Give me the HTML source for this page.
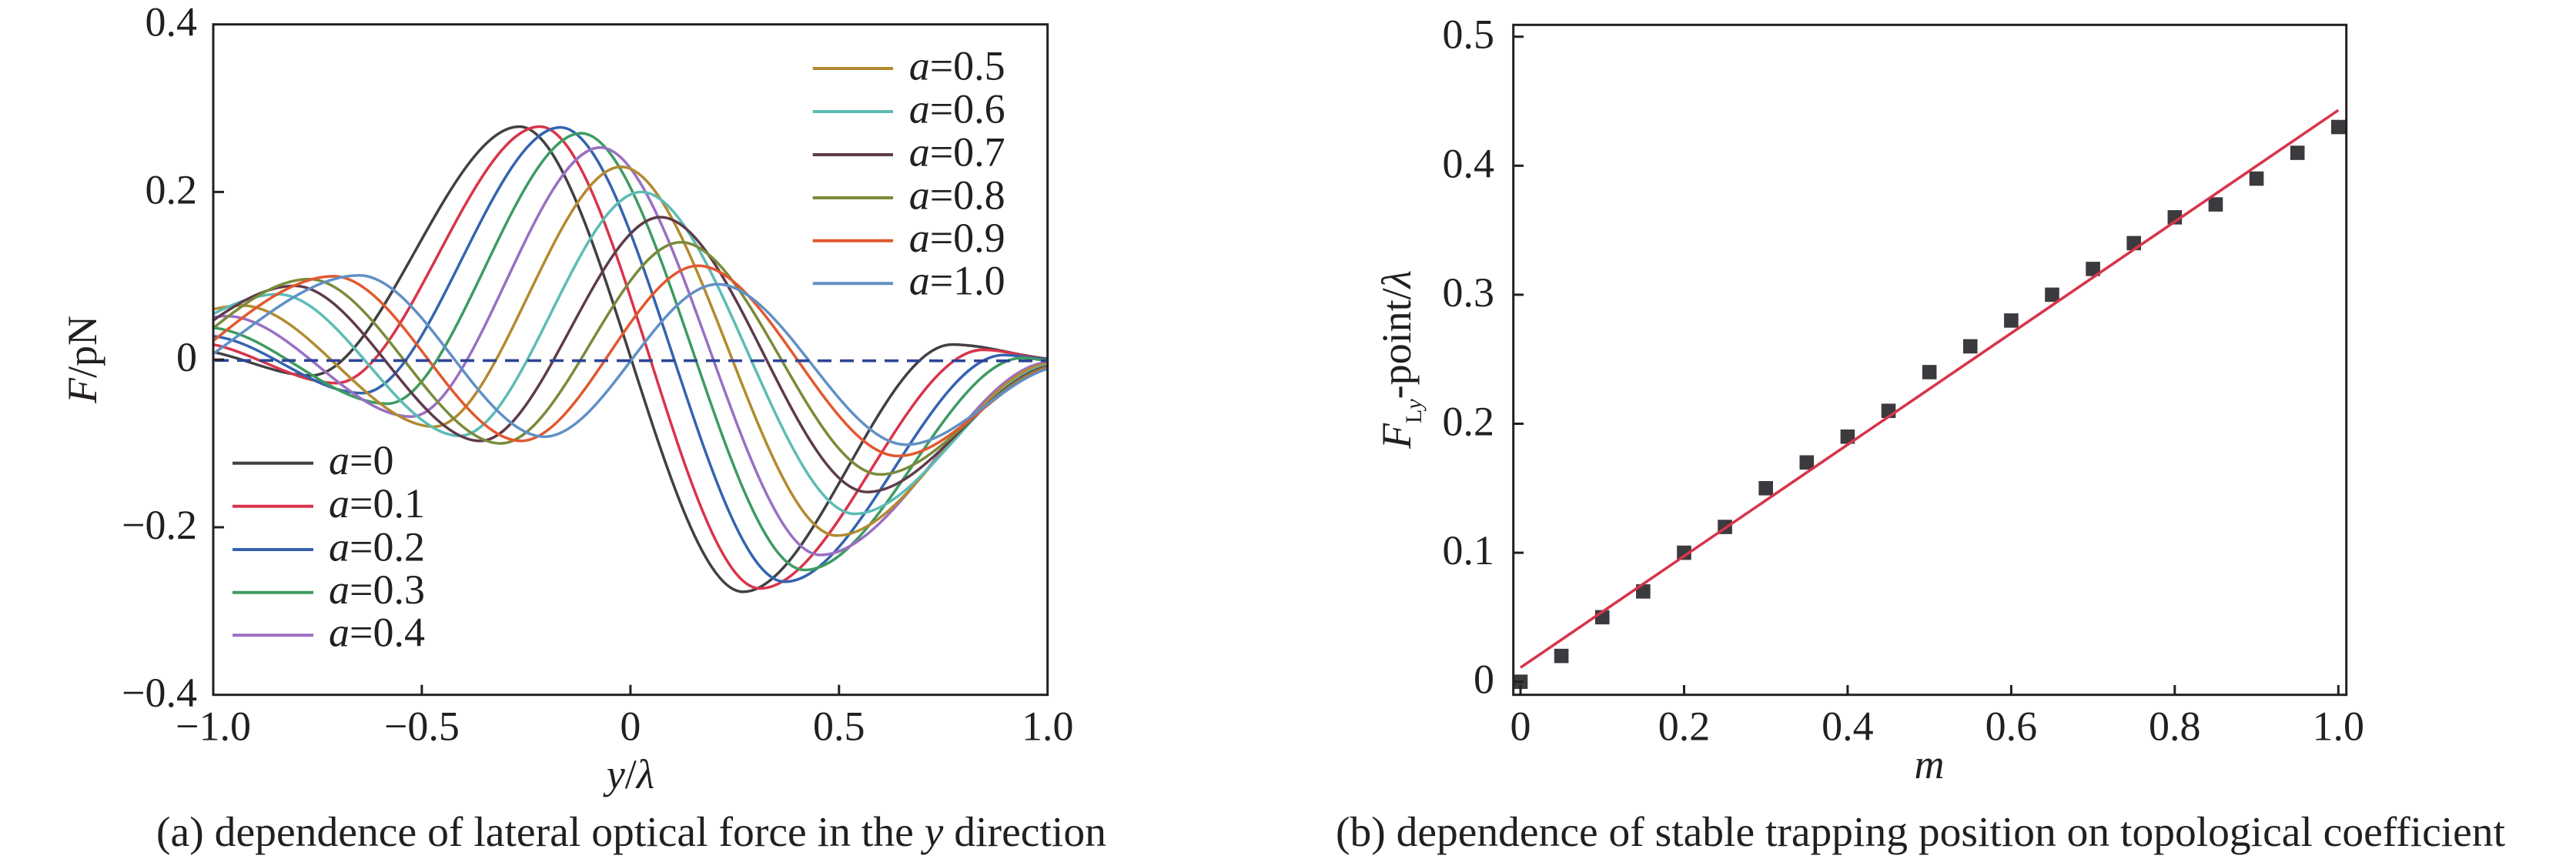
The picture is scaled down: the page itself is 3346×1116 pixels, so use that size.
<!DOCTYPE html>
<html>
<head>
<meta charset="utf-8">
<style>
html,body{margin:0;padding:0;background:#fff;}
svg{display:block;}
</style>
</head>
<body>
<svg id="fig" xmlns="http://www.w3.org/2000/svg" width="3346" height="1116" viewBox="0 0 3346 1116" font-family="'Liberation Serif','Times New Roman',serif" fill="#231f20">
  <rect x="0" y="0" width="3346" height="1116" fill="#ffffff"/>
  <defs>
    <clipPath id="clipL"><rect x="277" y="31.7" width="1083.7" height="871"/></clipPath>
  </defs>

  <!-- ============ LEFT PLOT ============ -->
  <g id="curves" clip-path="url(#clipL)" fill="none" stroke-width="3.5" stroke-linejoin="round" stroke-linecap="round"></g>
  <line x1="279" y1="468.3" x2="1359" y2="468.8" stroke="#2e4496" stroke-width="3.6" stroke-dasharray="18 11"/>

  <!-- frame -->
  <rect x="277" y="31.7" width="1083.7" height="871" fill="none" stroke="#231f20" stroke-width="3"/>
  <!-- ticks -->
  <g stroke="#231f20" stroke-width="3">
    <line x1="277" y1="249.4" x2="291" y2="249.4"/>
    <line x1="277" y1="467.2" x2="291" y2="467.2"/>
    <line x1="277" y1="685.0" x2="291" y2="685.0"/>
    <line x1="547.9" y1="902.7" x2="547.9" y2="889.7"/>
    <line x1="818.9" y1="902.7" x2="818.9" y2="889.7"/>
    <line x1="1089.8" y1="902.7" x2="1089.8" y2="889.7"/>
  </g>
  <!-- y tick labels -->
  <g font-size="54" text-anchor="end">
    <text x="256" y="46.7">0.4</text>
    <text x="256" y="264.4">0.2</text>
    <text x="256" y="482.2">0</text>
    <text x="256" y="700">−0.2</text>
    <text x="256" y="917.8">−0.4</text>
  </g>
  <!-- x tick labels -->
  <g font-size="54" text-anchor="middle">
    <text x="277" y="961.5">−1.0</text>
    <text x="547.9" y="961.5">−0.5</text>
    <text x="818.9" y="961.5">0</text>
    <text x="1089.8" y="961.5">0.5</text>
    <text x="1360.7" y="961.5">1.0</text>
  </g>
  <!-- axis labels -->
  <text font-size="54" text-anchor="middle" transform="translate(125,467) rotate(-90)"><tspan font-style="italic">F</tspan>/pN</text>
  <text font-size="54" text-anchor="middle" x="819" y="1024"><tspan font-style="italic">y</tspan>/<tspan font-style="italic">λ</tspan></text>

  <!-- legend lower-left -->
  <g stroke-width="4" stroke-linecap="butt">
    <line x1="302" y1="601.8" x2="407" y2="601.8" stroke="#404045"/>
    <line x1="302" y1="657.7" x2="407" y2="657.7" stroke="#d8344a"/>
    <line x1="302" y1="714" x2="407" y2="714" stroke="#3563b0"/>
    <line x1="302" y1="769.7" x2="407" y2="769.7" stroke="#3e9b60"/>
    <line x1="302" y1="825.3" x2="407" y2="825.3" stroke="#9a6fc2"/>
  </g>
  <g font-size="54">
    <text x="427" y="616.1"><tspan font-style="italic">a</tspan>=0</text>
    <text x="427" y="672"><tspan font-style="italic">a</tspan>=0.1</text>
    <text x="427" y="728.3"><tspan font-style="italic">a</tspan>=0.2</text>
    <text x="427" y="784"><tspan font-style="italic">a</tspan>=0.3</text>
    <text x="427" y="839.6"><tspan font-style="italic">a</tspan>=0.4</text>
  </g>
  <!-- legend upper-right -->
  <g stroke-width="4" stroke-linecap="butt">
    <line x1="1055.7" y1="89" x2="1160" y2="89" stroke="#b38a30"/>
    <line x1="1055.7" y1="145" x2="1160" y2="145" stroke="#5cbcb6"/>
    <line x1="1055.7" y1="201" x2="1160" y2="201" stroke="#5f3b4a"/>
    <line x1="1055.7" y1="257" x2="1160" y2="257" stroke="#7a8b3a"/>
    <line x1="1055.7" y1="312.7" x2="1160" y2="312.7" stroke="#e2582e"/>
    <line x1="1055.7" y1="368.3" x2="1160" y2="368.3" stroke="#6090c6"/>
  </g>
  <g font-size="54">
    <text x="1180.7" y="103.3"><tspan font-style="italic">a</tspan>=0.5</text>
    <text x="1180.7" y="159.3"><tspan font-style="italic">a</tspan>=0.6</text>
    <text x="1180.7" y="215.3"><tspan font-style="italic">a</tspan>=0.7</text>
    <text x="1180.7" y="271.3"><tspan font-style="italic">a</tspan>=0.8</text>
    <text x="1180.7" y="327"><tspan font-style="italic">a</tspan>=0.9</text>
    <text x="1180.7" y="382.6"><tspan font-style="italic">a</tspan>=1.0</text>
  </g>

  <!-- caption a -->
  <text font-size="55" x="203" y="1099" textLength="1234" lengthAdjust="spacingAndGlyphs">(a) dependence of lateral optical force in the <tspan font-style="italic">y</tspan> direction</text>

  <!-- ============ RIGHT PLOT ============ -->
  <g id="squares" fill="#3a3a3f"></g>
  <line x1="1975" y1="867.3" x2="3037.3" y2="143.2" stroke="#d7354a" stroke-width="3.6"/>

  <rect x="1965.7" y="32.3" width="1082" height="870.4" fill="none" stroke="#231f20" stroke-width="3"/>
  <g stroke="#231f20" stroke-width="3">
    <line x1="1965.7" y1="885.7" x2="1979" y2="885.7"/>
    <line x1="1965.7" y1="718.1" x2="1979" y2="718.1"/>
    <line x1="1965.7" y1="550.5" x2="1979" y2="550.5"/>
    <line x1="1965.7" y1="382.9" x2="1979" y2="382.9"/>
    <line x1="1965.7" y1="215.3" x2="1979" y2="215.3"/>
    <line x1="1965.7" y1="47.7" x2="1979" y2="47.7"/>
    <line x1="1975" y1="902.7" x2="1975" y2="890"/>
    <line x1="2187.5" y1="902.7" x2="2187.5" y2="890"/>
    <line x1="2399.9" y1="902.7" x2="2399.9" y2="890"/>
    <line x1="2612.4" y1="902.7" x2="2612.4" y2="890"/>
    <line x1="2824.8" y1="902.7" x2="2824.8" y2="890"/>
    <line x1="3037.3" y1="902.7" x2="3037.3" y2="890"/>
  </g>
  <g font-size="54" text-anchor="end">
    <text x="1941" y="900.7">0</text>
    <text x="1941" y="733.1">0.1</text>
    <text x="1941" y="565.5">0.2</text>
    <text x="1941" y="397.9">0.3</text>
    <text x="1941" y="230.3">0.4</text>
    <text x="1941" y="62.7">0.5</text>
  </g>
  <g font-size="54" text-anchor="middle">
    <text x="1975" y="961.5">0</text>
    <text x="2187.5" y="961.5">0.2</text>
    <text x="2399.9" y="961.5">0.4</text>
    <text x="2612.4" y="961.5">0.6</text>
    <text x="2824.8" y="961.5">0.8</text>
    <text x="3037.3" y="961.5">1.0</text>
  </g>
  <text font-size="54" text-anchor="middle" transform="translate(1832,467) rotate(-90)"><tspan font-style="italic">F</tspan><tspan font-size="30" dy="14">L</tspan><tspan font-size="30" font-style="italic">y</tspan><tspan dy="-14">-point/</tspan><tspan font-style="italic">λ</tspan></text>
  <text font-size="54" text-anchor="middle" font-style="italic" x="2506" y="1011">m</text>

  <!-- caption b -->
  <text font-size="55" x="1735" y="1099" textLength="1519" lengthAdjust="spacingAndGlyphs">(b) dependence of stable trapping position on topological coefficient</text>
</svg>

<script>
(function(){
  var NS = "http://www.w3.org/2000/svg";
  var X = function(x){ return 818.85 + x*541.85; };
  var Y = function(f){ return 467.2 - f*1089; };
  var curves = [
    ['#404045', [[-1,0.009,-0.1],[-0.766,-0.019,0],[-0.266,0.278,0],[0.27,-0.277,0],[0.771,0.018,0],[1,0.001,-0.05]]],
    ['#d8344a', [[-1,0.018,-0.1],[-0.705,-0.028,0],[-0.217,0.278,0],[0.31,-0.273,0],[0.845,0.0117,0],[1,0.0,-0.05]]],
    ['#3563b0', [[-1,0.028,-0.05],[-0.643,-0.040,0],[-0.168,0.277,0],[0.37,-0.265,0],[0.895,0.0055,0],[1,0.0,-0.03]]],
    ['#3e9b60', [[-1,0.038,-0.05],[-0.582,-0.0526,0],[-0.118,0.270,0],[0.418,-0.251,0],[0.94,0.002,0],[1,-0.001,-0.02]]],
    ['#9a6fc2', [[-1,0.0505,0.08],[-0.969,0.052,0],[-0.526,-0.068,0],[-0.072,0.253,0],[0.455,-0.233,0],[1,-0.003,0.04]]],
    ['#b38a30', [[-1,0.06,0.12],[-0.932,0.0646,0],[-0.471,-0.080,0],[-0.022,0.230,0],[0.495,-0.210,0],[1,-0.005,0.05]]],
    ['#5cbcb6', [[-1,0.0545,0.25],[-0.845,0.078,0],[-0.409,-0.091,0],[0.026,0.200,0],[0.538,-0.184,0],[1,-0.007,0.08]]],
    ['#5f3b4a', [[-1,0.0468,0.35],[-0.805,0.088,0],[-0.360,-0.097,0],[0.072,0.170,0],[0.568,-0.158,0],[1,-0.008,0.1]]],
    ['#7a8b3a', [[-1,0.0376,0.4],[-0.77,0.096,0],[-0.311,-0.100,0],[0.121,0.140,0],[0.599,-0.137,0],[1,-0.009,0.12]]],
    ['#e2582e', [[-1,0.0224,0.4],[-0.711,0.0995,0],[-0.262,-0.097,0],[0.162,0.112,0],[0.642,-0.115,0],[1,-0.010,0.14]]],
    ['#6090c6', [[-1,0.007,0.35],[-0.65,0.1005,0],[-0.206,-0.092,0],[0.209,0.090,0],[0.661,-0.1015,0],[1,-0.011,0.15]]]
  ];
  var g = document.getElementById('curves');
  curves.forEach(function(c){
    var p = c[1];
    var d = 'M' + X(p[0][0]).toFixed(2) + ' ' + Y(p[0][1]).toFixed(2);
    for (var i=0;i<p.length-1;i++){
      var a=p[i], b=p[i+1], h=b[0]-a[0];
      var c1x=X(a[0]+h/3), c1y=Y(a[1]+a[2]*h/3);
      var c2x=X(b[0]-h/3), c2y=Y(b[1]-b[2]*h/3);
      d += ' C' + c1x.toFixed(2)+' '+c1y.toFixed(2)+' '+c2x.toFixed(2)+' '+c2y.toFixed(2)+' '+X(b[0]).toFixed(2)+' '+Y(b[1]).toFixed(2);
    }
    var path = document.createElementNS(NS,'path');
    path.setAttribute('d', d);
    path.setAttribute('stroke', c[0]);
    g.appendChild(path);
  });

  var vals = [0,0.02,0.05,0.07,0.10,0.12,0.15,0.17,0.19,0.21,0.24,0.26,0.28,0.30,0.32,0.34,0.36,0.37,0.39,0.41,0.43];
  var sq = document.getElementById('squares');
  for (var k=0;k<vals.length;k++){
    var m = k*0.05;
    var cx = 1975 + m*1062.3, cy = 885.7 - vals[k]*1676;
    var r = document.createElementNS(NS,'rect');
    r.setAttribute('x', (cx-9.3).toFixed(2));
    r.setAttribute('y', (cy-9.3).toFixed(2));
    r.setAttribute('width','18.6');
    r.setAttribute('height','18.6');
    sq.appendChild(r);
  }
})();
</script>
</body>
</html>
